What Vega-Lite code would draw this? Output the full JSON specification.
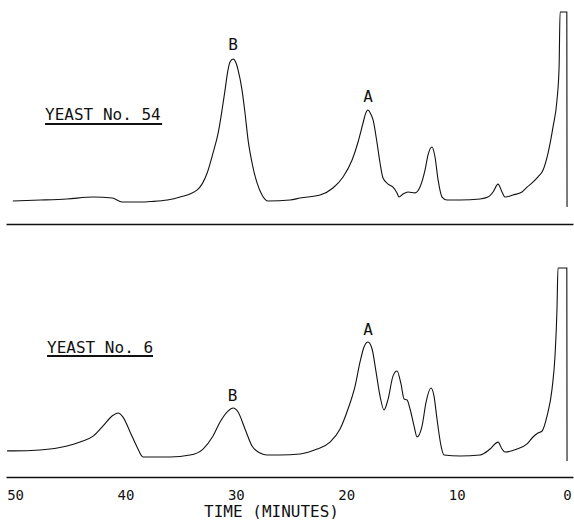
{
  "$schema": "https://vega.github.io/schema/vega-lite/v6.json",
  "background": "white",
  "padding": {"left": 6, "top": 8, "right": 1, "bottom": 0},
  "spacing": 25,
  "config": {"view": {"stroke": null}, "font": "DejaVu Sans Mono"},
  "datasets": {
    "yeast54": [
      {"time": 50.2, "signal": 0.0}, {"time": 47.7, "signal": 0.5}, {"time": 45.3, "signal": 1.1},
      {"time": 42.9, "signal": 2.1}, {"time": 41.2, "signal": 1.6}, {"time": 40.3, "signal": -0.5},
      {"time": 38.4, "signal": -0.5}, {"time": 37.8, "signal": -0.3}, {"time": 36.2, "signal": 0.5},
      {"time": 35.05, "signal": 2.1}, {"time": 33.5, "signal": 5.9}, {"time": 32.6, "signal": 14.9},
      {"time": 32.07, "signal": 25.5}, {"time": 31.6, "signal": 36.2}, {"time": 31.25, "signal": 48.4},
      {"time": 30.98, "signal": 59.0}, {"time": 30.71, "signal": 69.7}, {"time": 30.53, "signal": 73.9},
      {"time": 30.25, "signal": 75.5}, {"time": 29.98, "signal": 73.4}, {"time": 29.8, "signal": 69.7},
      {"time": 29.44, "signal": 59.0}, {"time": 29.17, "signal": 46.8}, {"time": 28.89, "signal": 32.4},
      {"time": 28.53, "signal": 20.2}, {"time": 28.08, "signal": 9.6}, {"time": 27.63, "signal": 3.2},
      {"time": 27.08, "signal": 0.0}, {"time": 25.09, "signal": 0.5}, {"time": 24.18, "signal": 1.6},
      {"time": 22.37, "signal": 3.2}, {"time": 21.2, "signal": 6.9}, {"time": 20.29, "signal": 12.8},
      {"time": 19.47, "signal": 21.8}, {"time": 18.93, "signal": 31.4}, {"time": 18.48, "signal": 41.5},
      {"time": 18.25, "signal": 46.5}, {"time": 18.03, "signal": 48.4}, {"time": 17.8, "signal": 46.5},
      {"time": 17.57, "signal": 43.1}, {"time": 17.21, "signal": 30.9}, {"time": 16.94, "signal": 20.2},
      {"time": 16.67, "signal": 12.2}, {"time": 16.21, "signal": 9.0}, {"time": 15.76, "signal": 7.4},
      {"time": 15.4, "signal": 4.3}, {"time": 15.22, "signal": 2.1}, {"time": 14.86, "signal": 3.7},
      {"time": 14.4, "signal": 4.8}, {"time": 13.77, "signal": 4.3}, {"time": 13.32, "signal": 7.4},
      {"time": 12.86, "signal": 16.5}, {"time": 12.59, "signal": 24.5}, {"time": 12.23, "signal": 28.7},
      {"time": 11.96, "signal": 23.4}, {"time": 11.68, "signal": 11.2}, {"time": 11.32, "signal": 2.1},
      {"time": 10.87, "signal": 0.5}, {"time": 9.69, "signal": 0.5}, {"time": 7.88, "signal": 1.1},
      {"time": 7.16, "signal": 2.1}, {"time": 6.7, "signal": 4.8}, {"time": 6.25, "signal": 9.0},
      {"time": 5.89, "signal": 4.8}, {"time": 5.62, "signal": 2.1}, {"time": 4.89, "signal": 3.2},
      {"time": 4.08, "signal": 4.8}, {"time": 3.62, "signal": 7.4}, {"time": 3.17, "signal": 9.6},
      {"time": 2.63, "signal": 12.8}, {"time": 2.17, "signal": 16.5}, {"time": 1.72, "signal": 25.5},
      {"time": 1.27, "signal": 39.4}, {"time": 0.91, "signal": 53.7}, {"time": 0.72, "signal": 71.3},
      {"time": 0.63, "signal": 100.5}, {"time": 0.02, "signal": 100.5}, {"time": 0.0, "signal": -3.2}
    ],
    "yeast6": [
      {"time": 50.72, "signal": 2.7}, {"time": 50.18, "signal": 2.7}, {"time": 47.74, "signal": 3.2},
      {"time": 45.29, "signal": 5.3}, {"time": 44.11, "signal": 7.4}, {"time": 42.93, "signal": 10.6},
      {"time": 42.03, "signal": 16.0}, {"time": 41.21, "signal": 21.3}, {"time": 40.67, "signal": 22.9},
      {"time": 40.22, "signal": 20.7}, {"time": 39.58, "signal": 12.8}, {"time": 38.95, "signal": 4.8},
      {"time": 38.41, "signal": -0.5}, {"time": 35.96, "signal": -0.5}, {"time": 34.15, "signal": 0.5},
      {"time": 32.97, "signal": 3.7}, {"time": 32.07, "signal": 10.6}, {"time": 31.43, "signal": 18.1},
      {"time": 30.71, "signal": 23.9}, {"time": 30.25, "signal": 25.5}, {"time": 29.8, "signal": 23.4},
      {"time": 29.17, "signal": 14.4}, {"time": 28.53, "signal": 5.3}, {"time": 27.81, "signal": 1.6},
      {"time": 27.17, "signal": 0.5}, {"time": 26.0, "signal": 0.5}, {"time": 24.18, "signal": 1.1},
      {"time": 22.64, "signal": 3.7}, {"time": 21.47, "signal": 7.4}, {"time": 20.56, "signal": 14.4},
      {"time": 19.84, "signal": 25.0}, {"time": 19.2, "signal": 37.2}, {"time": 18.75, "signal": 50.0},
      {"time": 18.39, "signal": 58.0}, {"time": 18.03, "signal": 60.6}, {"time": 17.66, "signal": 56.9},
      {"time": 17.3, "signal": 44.7}, {"time": 16.94, "signal": 31.9}, {"time": 16.58, "signal": 24.5},
      {"time": 16.21, "signal": 30.3}, {"time": 15.76, "signal": 42.6}, {"time": 15.4, "signal": 45.2},
      {"time": 15.04, "signal": 38.3}, {"time": 14.76, "signal": 30.3}, {"time": 14.49, "signal": 29.8},
      {"time": 14.22, "signal": 25.0}, {"time": 13.86, "signal": 16.0}, {"time": 13.59, "signal": 10.1},
      {"time": 13.13, "signal": 16.0}, {"time": 12.77, "signal": 28.7}, {"time": 12.32, "signal": 36.2},
      {"time": 12.05, "signal": 31.9}, {"time": 11.78, "signal": 19.7}, {"time": 11.41, "signal": 5.3},
      {"time": 11.14, "signal": 0.5}, {"time": 9.69, "signal": 0.0}, {"time": 7.88, "signal": 0.5},
      {"time": 6.97, "signal": 3.7}, {"time": 6.25, "signal": 7.4}, {"time": 5.89, "signal": 3.7},
      {"time": 5.62, "signal": 2.1}, {"time": 4.53, "signal": 3.7}, {"time": 3.62, "signal": 6.4},
      {"time": 3.08, "signal": 10.1}, {"time": 2.63, "signal": 12.2}, {"time": 2.26, "signal": 13.3},
      {"time": 1.81, "signal": 21.3}, {"time": 1.36, "signal": 35.6}, {"time": 1.09, "signal": 53.2},
      {"time": 0.91, "signal": 78.2}, {"time": 0.82, "signal": 100.0}, {"time": 0.02, "signal": 100.0},
      {"time": 0.0, "signal": -2.7}
    ],
    "peaks54": [{"label": "B", "time": 30.25, "signal": 83.0}, {"label": "A", "time": 18.03, "signal": 55.3}],
    "peaks6": [{"label": "B", "time": 30.3, "signal": 31.9}, {"label": "A", "time": 18.03, "signal": 67.0}],
    "name54": [{"label": "YEAST No. 54", "time": 47.28, "time2": 36.68, "signal": 45.7, "line": 41.0}],
    "name6": [{"label": "YEAST No. 6", "time": 47.1, "time2": 37.5, "signal": 57.4, "line": 53.2}]
  },
  "vconcat": [
    {
      "width": 567,
      "height": 216,
      "encoding": {
        "x": {"field": "time", "type": "quantitative",
          "scale": {"domain": [-0.54, 50.82], "reverse": true, "nice": false, "zero": false},
          "axis": {"labels": false, "ticks": false, "tickSize": 0, "grid": false, "title": null, "domainColor": "#111", "domainWidth": 1.5}},
        "y": {"field": "signal", "type": "quantitative",
          "scale": {"domain": [-12.23, 102.66], "nice": false, "zero": false}, "axis": null}
      },
      "layer": [
        {"data": {"name": "yeast54"}, "mark": {"type": "line", "interpolate": "monotone", "color": "#111", "strokeWidth": 1.1, "clip": true}},
        {"data": {"name": "peaks54"}, "mark": {"type": "text", "fontSize": 16, "color": "#111", "baseline": "middle", "align": "center"}, "encoding": {"text": {"field": "label"}}},
        {"data": {"name": "name54"}, "mark": {"type": "text", "fontSize": 16, "color": "#111", "baseline": "middle", "align": "left"}, "encoding": {"text": {"field": "label"}}},
        {"data": {"name": "name54"}, "mark": {"type": "rule", "color": "#111", "strokeWidth": 2}, "encoding": {"x2": {"field": "time2"}, "y": {"field": "line", "type": "quantitative"}}}
      ]
    },
    {
      "width": 567,
      "height": 228,
      "encoding": {
        "x": {"field": "time", "type": "quantitative",
          "scale": {"domain": [-0.54, 50.82], "reverse": true, "nice": false, "zero": false},
          "axis": {"values": [50, 40, 30, 20, 10, 0], "title": "TIME (MINUTES)", "grid": false, "ticks": false, "tickSize": 0,
            "labelFlush": false, "labelOverlap": false, "labelFontSize": 14, "labelColor": "#111", "labelPadding": 11,
            "domainColor": "#111", "domainWidth": 1.5, "titleFontSize": 16, "titleFontWeight": "normal", "titleColor": "#111",
            "titlePadding": 1, "titleX": 265, "titleAlign": "center"}},
        "y": {"field": "signal", "type": "quantitative",
          "scale": {"domain": [-11.17, 110.1], "nice": false, "zero": false}, "axis": null}
      },
      "layer": [
        {"data": {"name": "yeast6"}, "mark": {"type": "line", "interpolate": "monotone", "color": "#111", "strokeWidth": 1.1, "clip": true}},
        {"data": {"name": "peaks6"}, "mark": {"type": "text", "fontSize": 16, "color": "#111", "baseline": "middle", "align": "center"}, "encoding": {"text": {"field": "label"}}},
        {"data": {"name": "name6"}, "mark": {"type": "text", "fontSize": 16, "color": "#111", "baseline": "middle", "align": "left"}, "encoding": {"text": {"field": "label"}}},
        {"data": {"name": "name6"}, "mark": {"type": "rule", "color": "#111", "strokeWidth": 2}, "encoding": {"x2": {"field": "time2"}, "y": {"field": "line", "type": "quantitative"}}}
      ]
    }
  ]
}
